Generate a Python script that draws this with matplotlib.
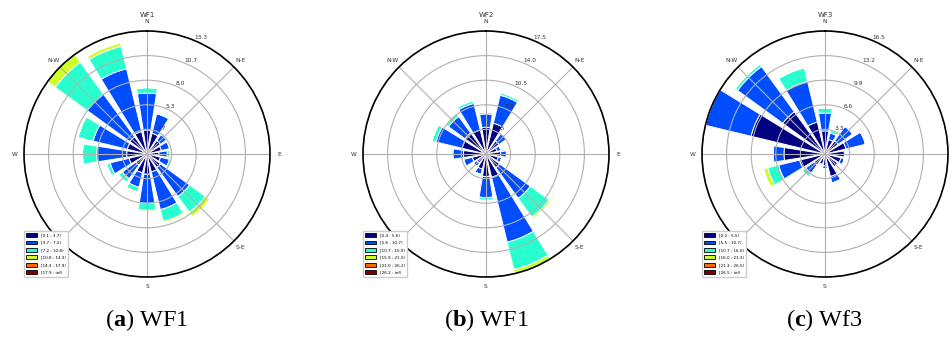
import numpy as np
import matplotlib.pyplot as plt

# 16 sectors, clockwise from north
directions = ['N', 'NNE', 'NE', 'ENE', 'E', 'ESE', 'SE', 'SSE',
              'S', 'SSW', 'SW', 'WSW', 'W', 'WNW', 'NW', 'NNW']
compass = ['N', 'N-E', 'E', 'S-E', 'S', 'S-W', 'W', 'N-W']

# frequency (%) per speed bin and sector
wf1_bin1 = [2.6, 2.3, 1.8, 1.6, 1.3, 1.5, 1.8, 2.0, 2.2, 2.1, 1.5, 2.0, 2.2, 2.2, 2.3, 2.5]
wf1_bin2 = [4.0, 2.2, 0.8, 0.9, 0.9, 1.0, 3.9, 4.2, 3.15, 1.6, 1.8, 2.1, 3.25, 3.8, 5.7, 7.0]
wf1_bin3 = [0.6, 0.0, 0.2, 0.1, 0.25, 0.3, 2.1, 1.3, 0.75, 0.5, 0.5, 0.4, 1.55, 1.7, 4.3, 2.5]
wf1_bin4 = [0.0, 0.0, 0.0, 0.0, 0.0, 0.0, 0.6, 0.2, 0.15, 0.15, 0.0, 0.0, 0.0, 0.0, 1.03, 0.4]
wf1_bins = ['[0.1 : 3.7)', '[3.7 : 7.2)', '[7.2 : 10.8)', '[10.8 : 14.3)', '[14.3 : 17.9)', '[17.9 : inf)']

wf2_bin1 = [3.8, 4.5, 2.3, 1.6, 2.1, 1.8, 2.4, 3.4, 3.2, 2.2, 1.6, 2.0, 3.2, 3.5, 3.7, 3.5]
wf2_bin2 = [1.9, 4.1, 1.3, 0.6, 0.8, 0.5, 5.4, 9.5, 3.0, 0.8, 0.6, 1.3, 1.5, 3.8, 2.9, 3.9]
wf2_bin3 = [0.3, 0.35, 0.0, 0.0, 0.2, 0.0, 3.3, 4.0, 0.4, 0.0, 0.1, 0.0, 0.2, 0.6, 0.5, 0.4]
wf2_bin4 = [0.0, 0.0, 0.0, 0.0, 0.0, 0.0, 0.3, 0.6, 0.0, 0.0, 0.0, 0.0, 0.0, 0.0, 0.0, 0.0]
wf2_bins = ['[0.4 : 5.6)', '[5.6 : 10.7)', '[10.7 : 15.9)', '[15.9 : 21.0)', '[21.0 : 26.2)', '[26.2 : inf)']

wf3_bin1 = [3.1, 2.0, 2.2, 2.9, 2.6, 2.2, 2.1, 3.1, 1.6, 1.4, 1.8, 3.5, 5.5, 10.2, 7.0, 4.4]
wf3_bin2 = [2.4, 0.9, 2.4, 2.7, 0.2, 0.5, 0.2, 0.9, 0.4, 0.2, 1.4, 2.9, 1.45, 6.3, 7.5, 5.6]
wf3_bin3 = [0.7, 0.4, 0.0, 0.0, 0.0, 0.0, 0.0, 0.0, 0.0, 0.0, 0.6, 1.5, 0.15, 0.0, 0.4, 1.9]
wf3_bin4 = [0.0, 0.0, 0.0, 0.0, 0.0, 0.0, 0.0, 0.0, 0.0, 0.0, 0.0, 0.6, 0.0, 0.0, 0.0, 0.0]
wf3_bins = ['[0.2 : 5.5)', '[5.5 : 10.7)', '[10.7 : 16.0)', '[16.0 : 21.3)', '[21.3 : 26.5)', '[26.5 : inf)']

colors = plt.cm.jet(np.linspace(0, 1, 6))


def windrose(ax, table, bins, title):
    n = len(directions)
    theta = np.radians(np.arange(n) * 360.0 / n)
    width = 2 * np.pi / n * 0.8
    offset = np.zeros(n)
    for i, vals in enumerate(table):
        vals = np.array(vals, dtype=float)
        ax.bar(theta, vals, width=width, bottom=offset, color=colors[i],
               edgecolor='white', linewidth=0.7)
        offset += vals
    rmax = offset.max()
    ax.set_theta_zero_location('N')
    ax.set_theta_direction(-1)
    ax.set_ylim(0, rmax)
    radii = np.linspace(0, rmax, 6)[1:]
    ax.set_rgrids(radii, labels=['%.1f' % r for r in radii], angle=22.5, fontsize=4.2, color='#333333')
    ax.set_thetagrids(np.arange(0, 360, 45), labels=compass, fontsize=4.2, color='#333333')
    ax.tick_params(axis='x', pad=-3.5)
    ax.grid(color='#b0b0b0', linewidth=0.8)
    ax.spines['polar'].set_linewidth(1.2)
    ax.set_title(title, fontsize=5, y=1.055, pad=0, color='#333333')
    handles = [plt.Rectangle((0, 0), 1, 1, facecolor=c, edgecolor='black', linewidth=0.6) for c in colors]
    ax.legend(handles, bins, loc='lower left', fontsize=3.0, handlelength=2.6, handleheight=1.0,
              borderaxespad=0.0, labelspacing=0.75, borderpad=0.6, framealpha=1)


plt.rcParams['mathtext.fontset'] = 'custom'
plt.rcParams['mathtext.rm'] = 'Liberation Serif'
plt.rcParams['mathtext.bf'] = 'Liberation Serif:bold'

fig = plt.figure(figsize=(9.53, 3.45), dpi=100)
W, H = 953.0, 345.0
R = 123.0
centers = [147, 486, 825]
panels = [
    ([wf1_bin1, wf1_bin2, wf1_bin3, wf1_bin4, [0] * 16, [0] * 16], wf1_bins, 'WF1', r'($\mathbf{a}$) WF1'),
    ([wf2_bin1, wf2_bin2, wf2_bin3, wf2_bin4, [0] * 16, [0] * 16], wf2_bins, 'WF2', r'($\mathbf{b}$) WF1'),
    ([wf3_bin1, wf3_bin2, wf3_bin3, wf3_bin4, [0] * 16, [0] * 16], wf3_bins, 'WF3', r'($\mathbf{c}$) Wf3'),
]
for cx, (table, bins, title, caption) in zip(centers, panels):
    ax = fig.add_axes([(cx - R) / W, (H - 154 - R) / H, 2 * R / W, 2 * R / H], projection='polar')
    windrose(ax, table, bins, title)
    fig.text(cx / W, 1 - 320 / H, caption, ha='center', va='center', fontsize=17.5,
             family='Liberation Serif')

fig.savefig('out.png', dpi=100)
